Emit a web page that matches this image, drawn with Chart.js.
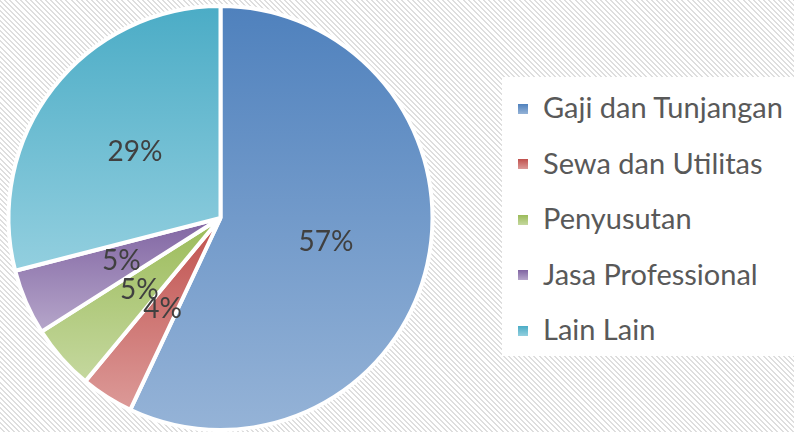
<!DOCTYPE html>
<html>
<head>
<meta charset="utf-8">
<script src="https://cdn.jsdelivr.net/npm/chart.js@4.4.1/dist/chart.umd.min.js"></script>
<style>
  html, body { margin: 0; padding: 0; }
  body {
    width: 794px; height: 432px; overflow: hidden; position: relative;
    background: repeating-linear-gradient(45deg, #ffffff 0px, #ffffff 2.2px, #dedede 2.2px, #dedede 3.6px);
  }
  #wrap { position: absolute; left: 0; top: 0; width: 794px; height: 432px; }
  #legend {
    position: absolute; left: 502px; top: 77px; width: 292px; height: 279px;
    background: #ffffff; font-family: Lato, "Open Sans", sans-serif; font-size: 29px; color: #595959;
  }
  .item { position: absolute; left: 16px; height: 34px; line-height: 34px; white-space: nowrap; }
  .box { display: inline-block; width: 10px; height: 10px; margin-right: 15px; vertical-align: middle; position: relative; top: -2px; }
</style>
</head>
<body>
<div id="wrap"><canvas id="pieChart" width="794" height="432"></canvas></div>
<div id="legend"></div>
<script>
// data
const labels = ["Gaji dan Tunjangan", "Sewa dan Utilitas", "Penyusutan", "Jasa Professional", "Lain Lain"];
const values = [57, 4, 5, 5, 29];
// gradient colours (top, bottom) for each slice
const topColors = ["#4f81bd", "#c0504d", "#9bbb59", "#8064a2", "#4bacc6"];
const bottomColors = ["#95b3d7", "#dc9a98", "#c5d89f", "#b6a6ca", "#93cfdf"];

// build the legend from the arrays
for (var i = 0; i < labels.length; i++) {
  var item = document.createElement("div");
  item.className = "item";
  item.style.top = (13 + i * 55.5) + "px";
  item.innerHTML = '<span class="box" style="background:linear-gradient(' + topColors[i] + ',' + bottomColors[i] + ')"></span>' + labels[i];
  document.getElementById("legend").appendChild(item);
}

// vertical gradient per slice, stretched over the slice's own height
const sliceGradient = {
  id: 'sliceGradient',
  beforeDatasetsDraw(chart) {
    const ctx = chart.ctx;
    chart.getDatasetMeta(0).data.forEach(function(arc, i) {
      const ys = [arc.y];
      [arc.startAngle, arc.endAngle].forEach(function(a) { ys.push(arc.y + Math.sin(a) * arc.outerRadius); });
      // include the top / bottom of the circle if the slice passes over them
      [-Math.PI / 2, Math.PI / 2, 3 * Math.PI / 2].forEach(function(a) {
        if (a > arc.startAngle && a < arc.endAngle) ys.push(arc.y + Math.sin(a) * arc.outerRadius);
      });
      const g = ctx.createLinearGradient(0, Math.min.apply(null, ys), 0, Math.max.apply(null, ys));
      g.addColorStop(0, topColors[i]);
      g.addColorStop(1, bottomColors[i]);
      arc.options.backgroundColor = g;
    });
  }
};

// percentage labels inside the slices
const sliceLabels = {
  id: 'sliceLabels',
  afterDatasetsDraw(chart) {
    const ctx = chart.ctx;
    const total = values.reduce(function(a, b) { return a + b; }, 0);
    ctx.save();
    ctx.font = '28px Lato, "Open Sans", sans-serif';
    ctx.fillStyle = '#404040';
    ctx.textAlign = 'center';
    ctx.textBaseline = 'middle';
    chart.getDatasetMeta(0).data.forEach(function(arc, i) {
      const mid = (arc.startAngle + arc.endAngle) / 2;
      const r = arc.outerRadius * 0.51;
      ctx.fillText(Math.round(values[i] / total * 100) + '%', arc.x + Math.cos(mid) * r, arc.y + Math.sin(mid) * r);
    });
    ctx.restore();
  }
};

var ctxP = document.getElementById("pieChart").getContext('2d');
var myPieChart = new Chart(ctxP, {
  type: 'pie',
  data: {
    labels: labels,
    datasets: [{
      data: values,
      backgroundColor: topColors,
      borderColor: '#ffffff',
      borderWidth: 4
    }]
  },
  options: {
    responsive: false,
    animation: false,
    layout: { padding: { left: 4, top: 4, right: 357, bottom: 0 } },
    plugins: {
      legend: { display: false },
      tooltip: { enabled: false }
    }
  },
  plugins: [sliceGradient, sliceLabels]
});
</script>
</body>
</html>
